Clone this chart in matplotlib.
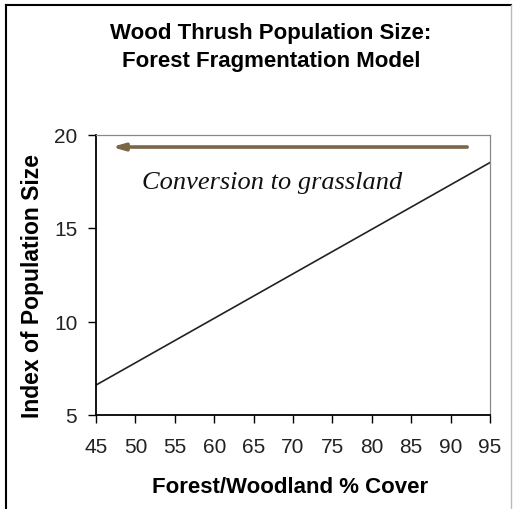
import matplotlib.pyplot as plt
from matplotlib.lines import Line2D

# data
cover = [45, 95]
pop_index = [6.6, 18.5]
x_ticks = [45, 50, 55, 60, 65, 70, 75, 80, 85, 90, 95]
y_ticks = [5, 10, 15, 20]
arrow_from = (92.1, 19.33)
arrow_to = (47.0, 19.33)

plt.rcParams['font.family'] = ['Liberation Sans', 'DejaVu Sans']

fig = plt.figure(figsize=(5.18, 5.10), dpi=100)
ax = fig.add_axes([96 / 518, 1 - 416 / 510, 394 / 518, 280.5 / 510])

ax.plot(cover, pop_index, color='#222222', lw=1.2)

ax.set_xlim(45, 95)
ax.set_ylim(5, 20)
ax.set_xticks(x_ticks)
ax.set_yticks(y_ticks)
ax.tick_params(direction='out', length=5.5, width=1, labelsize=15,
               labelcolor='#222222')
ax.tick_params(axis='x', pad=10)
ax.tick_params(axis='y', pad=8)

for side in ['left', 'bottom']:
    ax.spines[side].set_color('black')
    ax.spines[side].set_linewidth(1.3)
for side in ['top', 'right']:
    ax.spines[side].set_color('#888888')
    ax.spines[side].set_linewidth(0.9)

ax.set_xlabel('Forest/Woodland % Cover', fontsize=16, fontweight='bold')
ax.set_ylabel('Index of Population Size', fontsize=16.5, fontweight='bold')
# label centres in figure pixels, converted to axes fraction
ax.xaxis.set_label_coords((290 - 96) / 394, -(488 - 416) / 280.5)
ax.yaxis.set_label_coords(-(96 - 32) / 394, (416 - 286) / 280.5)
ax.xaxis.label.set_va('center')
ax.yaxis.label.set_va('center')

# arrow + annotation
ax.annotate('', xy=arrow_to, xytext=arrow_from,
            arrowprops=dict(arrowstyle='-|>,head_length=0.7,head_width=0.2',
                            color='#7b6648', lw=2.6, shrinkA=0, shrinkB=0))
ax.text(67.3, 17.45, 'Conversion to grassland', fontsize=19, style='italic',
        family='Liberation Serif', ha='center', va='center', color='#111111')

fig.text(271 / 518, 1 - 33 / 510, 'Wood Thrush Population Size:',
         fontsize=16, fontweight='bold', ha='center', va='center')
fig.text(271 / 518, 1 - 62 / 510, 'Forest Fragmentation Model',
         fontsize=16, fontweight='bold', ha='center', va='center')

# outer frame of the picture
fig.add_artist(Line2D([6 / 518, 6 / 518], [0, 1 - 6 / 510],
                      transform=fig.transFigure, color='black', lw=1.5))
fig.add_artist(Line2D([6 / 518, 511 / 518], [1 - 6 / 510, 1 - 6 / 510],
                      transform=fig.transFigure, color='black', lw=1.5))
fig.add_artist(Line2D([511 / 518, 511 / 518], [0, 1 - 6 / 510],
                      transform=fig.transFigure, color='#bbbbbb', lw=1))

fig.savefig('out.png', dpi=100)
